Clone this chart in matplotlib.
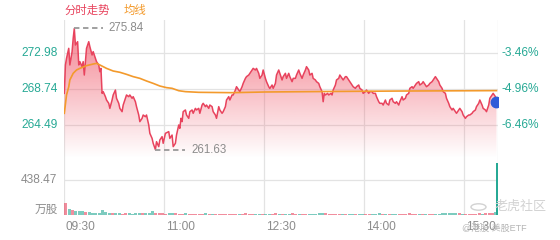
import numpy as np
import matplotlib
matplotlib.use("Agg")
import matplotlib.pyplot as plt
from matplotlib import transforms
from matplotlib.patches import Circle

plt.rcParams['font.family'] = ['Liberation Sans', 'Noto Sans CJK SC', 'DejaVu Sans']

# minutes after 09:30 and last price
t_price = [0, 1, 2, 4, 5, 7, 8, 9, 10, 12, 13, 14, 16, 17, 18, 19, 20, 22, 23, 25,
           26, 28, 29, 31, 32, 33, 34, 35, 37, 38, 40, 41, 43, 44, 46, 47, 49, 50, 52, 53,
           55, 56, 58, 59, 61, 62, 64, 65, 67, 68, 70, 71, 73, 74, 76, 77, 79, 80, 82, 83,
           85, 86, 88, 89,
           91, 94, 95, 97, 98, 100, 101, 103, 104, 105, 106, 107, 109, 110, 112, 113, 115, 116, 118, 119,
           121, 122, 124, 125, 127, 128, 130, 131, 133, 134, 136, 137, 139, 140, 142, 143, 145, 146, 148, 149,
           151, 152, 154, 155, 157, 158, 160, 161, 163, 164, 166, 167, 169, 170, 172, 173, 175, 176, 178, 179,
           181, 182, 184,
           185, 187, 188, 190, 191, 193, 194, 196, 197, 199, 200, 202, 203, 205, 206, 208, 209, 211, 212, 214,
           215, 217, 218, 220, 221, 223, 224, 226, 227, 229, 230, 232, 233, 234, 235, 237, 238, 240, 241, 242,
           244, 245, 247, 248, 250, 251, 253, 254, 256, 257, 259, 260, 262, 263, 265, 266, 268, 269, 271, 272,
           274, 275, 277, 278, 280, 281, 283, 284,
           286, 287, 289, 290, 292, 293, 295, 296, 298, 299, 301, 302, 304, 305, 307, 308, 310, 311, 313, 314,
           316, 317, 319, 320, 322, 323, 325, 326, 328, 329, 331, 332, 334, 335, 337, 338, 340, 341, 343, 344,
           346, 347, 349, 350, 352, 353, 355, 356, 358, 359, 361, 362, 364, 365, 367, 368, 370, 371, 373, 374,
           376, 377, 379, 380, 382, 383, 385, 386, 388, 389]
price = [268.23, 271.56, 272.34, 273.51, 271.56, 273.12, 274.68, 275.84, 273.90, 274.29,
         271.56, 271.95, 271.36, 271.95, 270.38, 271.95, 273.51, 274.29, 273.71, 272.73,
         273.12, 272.34, 271.95, 271.56, 270.77, 271.16, 268.23, 268.43, 267.84, 267.45,
         267.06, 266.47, 267.45, 268.04, 268.62, 267.65, 267.06, 266.47, 266.08, 266.86,
         267.65, 268.04, 267.84, 268.04, 267.65, 267.84, 267.25, 266.67, 265.69, 264.91,
         265.30, 265.69, 265.49, 265.69, 264.52, 263.54, 262.95, 262.37, 261.63, 262.56,
         261.98, 262.76, 263.15, 262.37,
         263.54, 263.74, 262.95, 263.34, 261.98, 262.37, 263.34, 264.52, 264.13, 265.30,
         264.91, 266.08, 266.28, 265.69, 265.30, 266.08, 266.28, 265.89, 266.47, 266.28,
         266.47, 265.89, 266.86, 267.06, 266.67, 266.86, 266.47, 266.86, 266.67, 266.08,
         265.69, 265.30, 266.67, 266.28, 265.89, 266.08, 266.67, 267.45, 267.84, 267.45,
         268.04, 268.04, 268.62, 269.01, 268.62, 268.43, 269.01, 269.40, 269.99, 270.19,
         270.38, 270.58, 270.97, 271.16, 270.97, 271.16, 270.58, 269.99, 270.38, 270.97,
         269.99, 269.60, 269.01,
         268.80, 269.21, 268.82, 269.40, 270.38, 270.97, 270.58, 269.80, 270.19, 270.58,
         269.99, 270.58, 270.19, 269.60, 269.99, 269.99, 270.38, 270.97, 270.58, 269.99,
         270.38, 270.97, 271.36, 270.97, 270.38, 270.58, 269.99, 269.80, 269.60, 269.40,
         269.01, 268.43, 267.25, 268.23, 268.04, 268.23, 268.04, 268.23, 268.04, 268.62,
         269.21, 269.80, 269.99, 270.38, 269.99, 269.80, 270.19, 270.19, 269.80, 269.60,
         269.21, 269.01, 268.82, 269.01, 269.21, 268.82, 268.62, 268.23, 268.43, 268.62,
         268.23, 268.43, 268.43, 268.23, 268.23, 267.84, 267.25, 267.06,
         267.06, 266.86, 267.45, 267.06, 266.86, 267.45, 267.65, 267.25, 267.06, 267.25,
         266.86, 267.25, 267.84, 267.45, 267.65, 268.04, 268.23, 268.82, 269.01, 268.82,
         269.21, 269.40, 269.60, 269.21, 269.40, 269.60, 269.21, 269.01, 269.21, 269.40,
         269.60, 269.80, 270.19, 269.99, 269.60, 269.21, 268.82, 268.43, 268.23, 267.65,
         267.06, 266.67, 266.28, 266.47, 266.08, 265.89, 266.28, 266.47, 266.08, 265.69,
         265.30, 265.49, 265.69, 265.69, 265.89, 266.08, 266.28, 266.67, 267.06, 267.45,
         266.86, 266.47, 266.28, 266.08, 266.86, 267.65, 268.04, 268.23, 267.84, 267.25]

# average price line
t_avg = [0, 2, 4, 5, 8, 11, 14, 20, 26, 29, 32, 38, 44, 50, 56, 62, 68, 74, 80, 86,
         92, 97, 103, 109, 121, 151, 181, 240, 300, 389]
avg = [265.89, 268.04, 269.00, 269.80, 270.58, 270.97, 271.16, 271.48, 271.67, 271.75,
       271.56, 271.16, 270.85, 270.70, 270.46, 270.19, 269.99, 269.68, 269.40, 269.09,
       268.90, 268.82, 268.54, 268.43, 268.35, 268.31, 268.39, 268.45, 268.50, 268.55]

# volume (万股), one value per 3 minutes, plus the closing print
vol = [150, 75, 60, 50, 45, 55, 40, 35, 30, 28,
       30, 60, 35, 25, 22, 20, 25, 18, 20, 22,
       18, 25, 20, 22, 25, 30, 50, 28, 25, 22,
       18, 20, 25, 22, 18, 15, 20, 18, 15, 14,
       18, 15, 20, 16, 14, 15, 18, 14, 16, 15,
       18, 14, 15, 16, 20, 15, 18, 14, 16, 15,
       14, 18, 15, 20, 16, 18, 14, 15, 22, 16,
       14, 15, 18, 14, 15, 16, 22, 25, 20, 14,
       15, 16, 14, 15, 13, 14, 16, 15, 14, 16,
       18, 14, 15, 16, 20, 16, 15, 14, 16, 15,
       18, 16, 15, 20, 16, 14, 15, 16, 14, 15,
       16, 18, 16, 22, 25, 28, 22, 20, 25, 18,
       16, 15, 18, 16, 20, 18, 22, 28, 30, 35]
vol_close = 646

prev_close = 282.76
price_ticks = [272.98, 268.74, 264.49]
vol_tick = 438.47
time_labels = ['09:30', '11:00', '12:30', '14:00', '15:30']
time_pos = [0, 90, 180, 270, 360]
hi_val, hi_t = 275.84, 9
lo_val, lo_t = 261.63, 82

RED = '#e8435d'
ORANGE = '#f39a2c'
TEAL = '#27a995'
GRID = '#e3e3e3'
GRAY = '#8c8c8c'

W, H = 560, 240
fig = plt.figure(figsize=(W / 100, H / 100), dpi=100)
L, R = 64.3, 497.6
ax = fig.add_axes([L / W, 1 - 158 / H, (R - L) / W, 138 / H])
axv = fig.add_axes([L / W, 1 - 215 / H, (R - L) / W, 57 / H])

ylo, yhi = 260.646, 276.834
t_arr = np.array(t_price, float)
p_arr = np.array(price)

# gradient fill under the price line
poly = ax.fill_between(t_arr, p_arr, ylo, facecolor='none', edgecolor='none')
grad = np.zeros((256, 1, 4))
grad[..., 0], grad[..., 1], grad[..., 2] = 239 / 255, 80 / 255, 98 / 255
grad[:, 0, 3] = np.linspace(0.75, 0.0, 256)
img = ax.imshow(grad, aspect='auto', extent=[0, 390, ylo, yhi], origin='upper', zorder=1)
img.set_clip_path(poly.get_paths()[0], transform=ax.transData)

ax.plot(t_arr, p_arr, color=RED, lw=1.1, zorder=3)
ax.plot(t_avg, avg, color=ORANGE, lw=1.2, zorder=4)
ax.plot(t_arr[-1], p_arr[-1], 'o', color='#2f5bd8', ms=7.5, zorder=5)

# high / low markers
ax.plot([hi_t, hi_t + 26], [hi_val, hi_val], color='#999999', lw=1.3, ls=(0, (3, 2)), zorder=4)
ax.text(hi_t + 30.5, hi_val, f'{hi_val:.2f}', color=GRAY, fontsize=8.3, va='center', ha='left')
ax.plot([lo_t, lo_t + 27], [lo_val, lo_val], color='#999999', lw=1.3, ls=(0, (3, 2)), zorder=4)
ax.text(lo_t + 32, lo_val, f'{lo_val:.2f}', color=GRAY, fontsize=8.3, va='center', ha='left')

ax.set_xlim(0, 390)
ax.set_ylim(ylo, yhi)

# volume bars
vol_t = np.arange(0, 390, 3)[:len(vol)]
p_at = np.interp(vol_t + 3, t_arr, p_arr)
p_prev = np.interp(vol_t, t_arr, p_arr)
cols = [RED if a >= b else TEAL for a, b in zip(p_at, p_prev)]
axv.bar(vol_t, vol, width=2.7, align='edge', color=cols, alpha=0.6, lw=0)
axv.bar([389], [vol_close], width=1.0, align='edge', color=TEAL, lw=0)
axv.set_xlim(0, 390)
axv.set_ylim(0, vol_tick * 57 / 35)

for a in (ax, axv):
    a.set_xticks([])
    a.set_yticks([])
    for s in a.spines.values():
        s.set_visible(False)
    a.patch.set_alpha(0)
    for tp in time_pos + [390]:
        a.axvline(tp, color=GRID, lw=0.9, zorder=0)

for v in price_ticks:
    ax.axhline(v, color=GRID, lw=0.9, zorder=0)
axv.axhline(vol_tick, color=GRID, lw=0.9, zorder=0)

tr = transforms.blended_transform_factory(ax.transAxes, ax.transData)
for v in price_ticks:
    ax.text(-0.016, v, f'{v:.2f}', transform=tr, ha='right', va='center', color=TEAL, fontsize=8.6)
    pct = (v / prev_close - 1) * 100
    ax.text(1.0095, v, f'{pct:.2f}%', transform=tr, ha='left', va='center', color=TEAL, fontsize=8.6)

trv = transforms.blended_transform_factory(axv.transAxes, axv.transData)
axv.text(-0.016, vol_tick, f'{vol_tick:.2f}', transform=trv, ha='right', va='center', color=GRAY, fontsize=8.6)
fig.text(57.5 / W, 1 - 210 / H, '万股', ha='right', va='center', color=GRAY, fontsize=8.4)

trx = transforms.blended_transform_factory(axv.transData, axv.transAxes)
for tp, lab in zip(time_pos, time_labels):
    axv.text(tp + 1.2, -(226.7 - 215) / 57, lab, transform=trx, ha='left', va='center',
             color=GRAY, fontsize=8.6)

# header
fig.text(L / W, 1 - 10 / H, '分时走势', ha='left', va='center', color=RED, fontsize=8.2)
fig.text(124 / W, 1 - 10 / H, '均线', ha='left', va='center', color=ORANGE, fontsize=8.2)

# watermark
fig.patches.append(Circle((478.5 / W, 1 - 207 / H), 7.5 / W, transform=fig.transFigure,
                          fill=False, ec='#d2d2d2', lw=1.0))
fig.text(495 / W, 1 - 207 / H, '老虎社区', ha='left', va='center', color='#d2d2d2', fontsize=9.4)
fig.text(462 / W, 1 - 228 / H, '@港股 美股ETF', ha='left', va='center', color='#b5b5b5', fontsize=6.5)

fig.savefig('out.png', dpi=100)
